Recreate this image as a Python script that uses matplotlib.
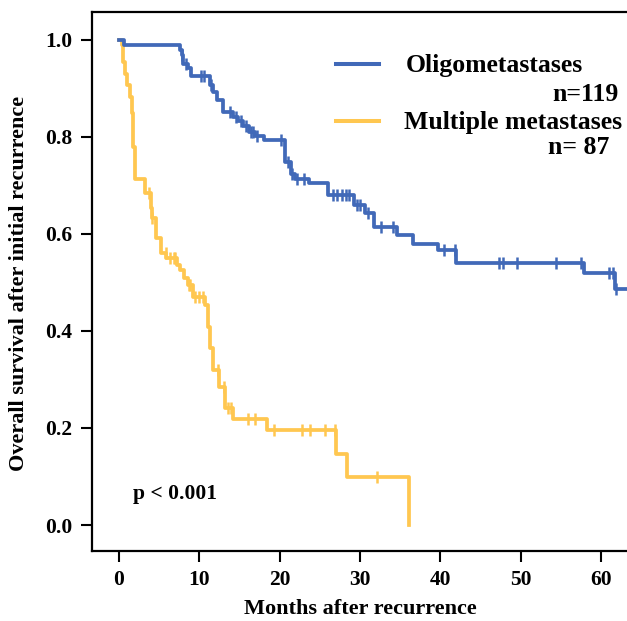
import numpy as np
import matplotlib
matplotlib.use("Agg")
import matplotlib.pyplot as plt

plt.rcParams['font.family'] = ['Liberation Serif', 'DejaVu Serif']
plt.rcParams['font.weight'] = 'bold'

# Kaplan-Meier steps (time in months, survival after the drop)
oligo_t = [0, 0.6, 7.6, 7.8, 8.0, 8.6, 9.0, 11.3, 11.7, 12.2, 13.0, 14.2, 14.8, 15.4,
           16.2, 16.9, 18.0, 20.7, 21.4, 21.9, 23.7, 26.0, 29.3, 30.6, 31.8, 34.6,
           36.6, 39.7, 42.0, 57.9, 61.8, 64.5]
oligo_s = [1.0, 0.99, 0.979, 0.969, 0.95, 0.942, 0.925, 0.907, 0.893, 0.876, 0.852, 0.842,
           0.832, 0.822, 0.811, 0.803, 0.794, 0.748, 0.724, 0.713, 0.705, 0.68, 0.66, 0.643,
           0.614, 0.597, 0.579, 0.567, 0.541, 0.519, 0.486, 0.486]
oligo_cens = [7.9, 8.3, 10.2, 10.6, 11.5, 13.8, 14.6, 15.2, 15.8, 16.4, 16.7, 17.2, 20.2,
              21.1, 21.6, 22.2, 23.0, 26.6, 27.1, 27.8, 28.3, 28.6, 29.6, 30.0, 31.0, 32.6,
              34.1, 40.5, 41.9, 47.3, 47.8, 49.6, 54.4, 57.5, 61.0, 61.5, 61.9]

multi_t = [0, 0.34, 0.5, 0.75, 1.0, 1.37, 1.6, 1.8, 2.0, 3.3, 4.0, 4.1, 4.6, 5.2, 5.9,
           7.2, 7.6, 8.1, 8.6, 9.2, 10.7, 11.1, 11.3, 11.7, 12.5, 13.2, 14.2, 18.4, 27.0,
           28.4, 36.1]
multi_s = [1.0, 0.99, 0.955, 0.93, 0.907, 0.883, 0.85, 0.78, 0.713, 0.684, 0.653, 0.633,
           0.592, 0.56, 0.55, 0.536, 0.526, 0.509, 0.495, 0.471, 0.454, 0.408, 0.365, 0.32,
           0.285, 0.241, 0.218, 0.196, 0.147, 0.098, 0.0]
multi_cens = [3.7, 4.1, 5.8, 6.3, 6.8, 7.0, 8.7, 8.9, 9.5, 10.0, 10.5, 12.3, 13.1, 13.6,
              13.9, 16.1, 16.9, 19.3, 22.8, 23.8, 25.7, 26.9, 32.1]

blue = '#4169B8'
orange = '#FFC750'


def surv_at(times, surv, pts):
    idx = np.searchsorted(times, pts, side='right') - 1
    return np.array(surv)[idx]


fig = plt.figure(figsize=(6.27, 6.21), dpi=100)
ax = fig.add_axes([92 / 627, 70 / 621, 0.8633, 539 / 621])

for t, s, c, col in [(multi_t, multi_s, multi_cens, orange),
                     (oligo_t, oligo_s, oligo_cens, blue)]:
    ax.step(t, s, where='post', color=col, lw=2.7)
    ax.plot(c, surv_at(t, s, c), ls='none', marker='|', ms=9, mew=1.8, color=col)

ax.set_xlim(-3.36, 64.04)
ax.set_ylim(-0.0536, 1.0577)
ax.set_xticks(np.arange(0, 61, 10))
ax.set_yticks(np.arange(0, 1.01, 0.2))
ax.set_yticklabels([f'{v:.1f}' for v in np.arange(0, 1.01, 0.2)])
ax.tick_params(direction='out', length=8, width=1.5, labelsize=15.5, pad=6)
for lab in ax.get_xticklabels() + ax.get_yticklabels():
    lab.set_fontweight('bold')
for sp in ax.spines.values():
    sp.set_linewidth(1.6)

fig.text(360 / 627, 1 - 609 / 621, 'Months after recurrence', fontsize=16,
         fontweight='bold', ha='center', va='center')
fig.text(19 / 627, 1 - 283 / 621, 'Overall survival after initial recurrence', fontsize=16,
         fontweight='bold', ha='center', va='center', rotation=90)

# legend drawn by hand
ax.plot([27.0, 32.4], [0.951, 0.951], color=blue, lw=2.9)
ax.plot([27.0, 32.4], [0.833, 0.833], color=orange, lw=2.9)
ax.text(35.7, 0.948, 'Oligometastases', fontsize=18.5, fontweight='bold', va='center')
ax.text(62.2, 0.887, 'n=119', fontsize=18.5, fontweight='bold', va='center', ha='right')
ax.text(35.5, 0.829, 'Multiple metastases', fontsize=18.5, fontweight='bold', va='center')
ax.text(61.1, 0.779, 'n= 87', fontsize=18.5, fontweight='bold', va='center', ha='right')

ax.text(1.8, 0.063, 'p < 0.001', fontsize=15.5, fontweight='bold', va='center')

fig.savefig('out.png', dpi=100)
